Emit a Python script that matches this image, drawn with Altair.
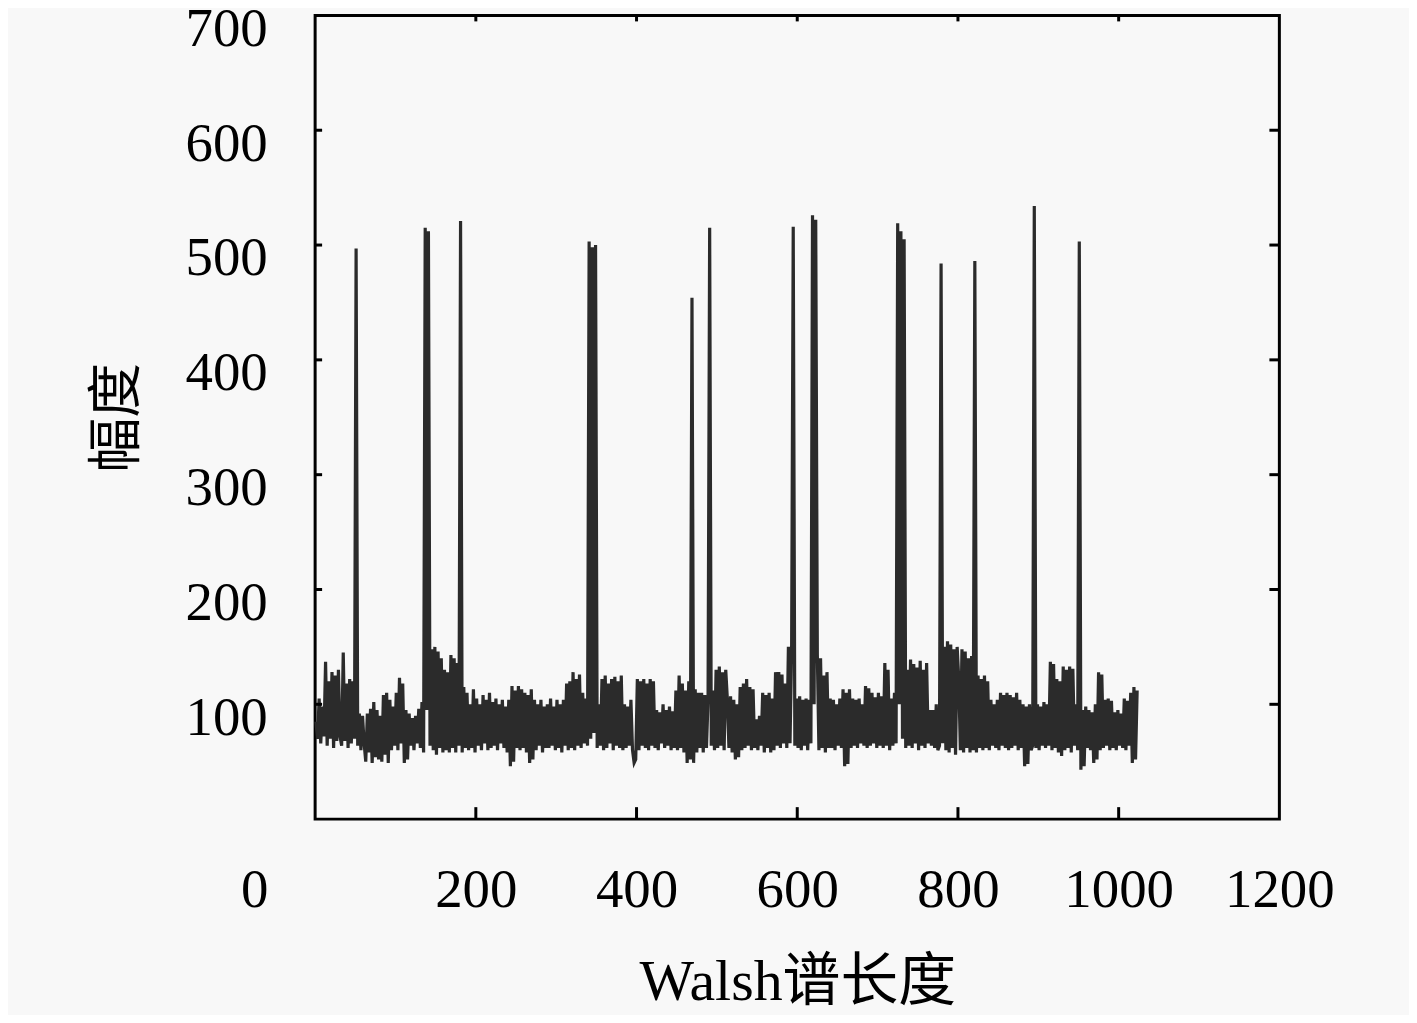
import altair as alt
import pandas as pd

# Walsh spectrum magnitude, 512 samples at x = 1, 3, 5, ..., 1023
amp = [
    85, 70, 105, 66, 98, 72, 137, 64, 120, 70, 128, 62, 125, 68, 130, 72,
    64, 145, 68, 118, 62, 122, 66, 120, 70, 497, 64, 92, 60, 90, 66, 50,
    92, 58, 96, 49, 102, 54, 95, 52, 90, 50, 108, 56, 110, 49, 104, 60,
    98, 64, 110, 60, 123, 66, 118, 49, 95, 52, 92, 64, 88, 60, 90, 66,
    96, 62, 102, 58, 515, 95, 512, 64, 148, 60, 150, 56, 146, 62, 140, 58,
    130, 60, 128, 58, 143, 62, 140, 58, 136, 64, 521, 58, 115, 62, 110, 60,
    100, 62, 113, 58, 105, 64, 100, 60, 108, 66, 104, 60, 110, 62, 102, 64,
    105, 60, 100, 66, 104, 62, 98, 58, 104, 46, 116, 50, 112, 62, 116, 60,
    113, 62, 110, 58, 108, 49, 113, 52, 104, 60, 100, 64, 104, 58, 98, 62,
    100, 62, 105, 64, 98, 60, 104, 62, 100, 58, 104, 64, 118, 60, 120, 62,
    128, 60, 122, 64, 126, 62, 110, 66, 105, 64, 503, 70, 498, 75, 500, 62,
    100, 64, 122, 60, 125, 62, 118, 66, 122, 60, 124, 64, 120, 62, 125, 60,
    100, 62, 98, 64, 104, 60, 49, 52, 122, 60, 120, 64, 122, 62, 118, 60,
    122, 64, 120, 62, 95, 60, 93, 66, 100, 62, 95, 64, 98, 60, 94, 62,
    112, 60, 125, 62, 118, 58, 112, 49, 120, 52, 454, 49, 113, 58, 110, 62,
    110, 58, 108, 62, 104, 515, 64, 112, 60, 130, 62, 133, 64, 128, 60, 130,
    105, 62, 107, 58, 104, 52, 100, 54, 115, 60, 118, 62, 122, 64, 115, 60,
    113, 62, 87, 60, 90, 64, 110, 58, 108, 62, 110, 58, 105, 60, 128, 64,
    128, 62, 126, 66, 118, 62, 150, 66, 148, 516, 64, 105, 62, 107, 60, 104,
    64, 105, 60, 104, 66, 526, 100, 522, 143, 60, 140, 62, 125, 58, 128, 62,
    105, 62, 104, 60, 100, 64, 105, 62, 113, 46, 110, 48, 113, 62, 105, 64,
    104, 62, 105, 66, 100, 64, 116, 62, 114, 64, 110, 66, 106, 62, 110, 64,
    107, 62, 136, 64, 130, 60, 105, 64, 110, 66, 519, 100, 512, 70, 505, 62,
    130, 64, 139, 62, 135, 66, 132, 60, 138, 64, 130, 62, 136, 66, 95, 64,
    95, 62, 100, 60, 64, 484, 66, 150, 60, 155, 58, 152, 62, 148, 56, 150,
    122, 60, 148, 58, 146, 62, 140, 58, 142, 60, 486, 58, 125, 62, 122, 60,
    125, 62, 120, 60, 104, 64, 100, 62, 104, 60, 110, 64, 108, 62, 110, 60,
    108, 62, 106, 64, 110, 60, 104, 62, 100, 46, 98, 48, 100, 60, 64, 534,
    62, 100, 60, 98, 64, 102, 62, 100, 64, 137, 60, 135, 62, 122, 58, 120,
    55, 133, 60, 130, 62, 133, 58, 131, 64, 100, 60, 503, 43, 95, 46, 98,
    62, 95, 60, 93, 49, 100, 52, 128, 60, 126, 62, 104, 64, 105, 60, 103,
    62, 93, 60, 95, 64, 92, 62, 105, 60, 103, 64, 110, 49, 115, 52, 112,
]
idx = [2 * i + 1 for i in range(len(amp))]

x_labels = [0, 200, 400, 600, 800, 1000, 1200]
y_labels = [100, 200, 300, 400, 500, 600, 700]
x_inner_ticks = [200, 400, 600, 800, 1000]
y_inner_ticks = [100, 200, 300, 400, 500, 600]

W, H = 967, 806
SERIF = "Liberation Serif"
CJK = "Liberation Serif, Noto Sans CJK SC"

df = pd.DataFrame({"x": idx, "y": amp})
xt = pd.DataFrame({"x": x_inner_ticks})
yt = pd.DataFrame({"y": y_inner_ticks})

xscale = alt.Scale(domain=[0, 1200], nice=False, zero=False)
yscale = alt.Scale(domain=[0, 700], nice=False, zero=False)

line = alt.Chart(df).mark_line(color="#2b2b2b", strokeWidth=3.2).encode(
    x=alt.X("x:Q", scale=xscale, axis=alt.Axis(
        values=x_labels, format="d", ticks=False, domain=False, grid=False,
        labelFont=SERIF, labelFontSize=55, labelColor="black",
        labelPadding=45, labelFlush=False,
        labelOffset={"condition": {"test": "datum.value === 0", "value": -61}, "value": 0},
        title="Walsh谱长度", titleFont=CJK, titleFontSize=58,
        titleFontWeight="normal", titleColor="black", titlePadding=36)),
    y=alt.Y("y:Q", scale=yscale, axis=alt.Axis(
        values=y_labels, format="d", ticks=False, domain=False, grid=False,
        labelFont=SERIF, labelFontSize=55, labelColor="black",
        labelPadding=48, labelOffset=13, labelFlush=False,
        title="幅度", titleFont="Noto Sans CJK SC", titleFontSize=55,
        titleFontWeight="normal", titleColor="black", titlePadding=40)),
)

bottom_ticks = alt.Chart(xt).mark_rule(color="black", strokeWidth=3).encode(
    x="x:Q", y=alt.value(H), y2=alt.value(H - 12))
top_ticks = alt.Chart(xt).mark_rule(color="black", strokeWidth=3).encode(
    x="x:Q", y=alt.value(0), y2=alt.value(6))
right_ticks = alt.Chart(yt).mark_rule(color="black", strokeWidth=3).encode(
    y="y:Q", x=alt.value(W), x2=alt.value(W - 10))
left_ticks = alt.Chart(yt).mark_rule(color="black", strokeWidth=3).encode(
    y="y:Q", x=alt.value(0), x2=alt.value(7))

chart = alt.layer(line, bottom_ticks, top_ticks, right_ticks, left_ticks).properties(
    width=W, height=H,
    autosize=alt.AutoSizeParams(type="none"),
    padding={"left": 308, "top": 6, "right": 130, "bottom": 195},
    background="#f8f8f8",
).configure_view(stroke="black", strokeWidth=3)

chart.save("out.html", embed_options={"renderer": "svg", "actions": False})
